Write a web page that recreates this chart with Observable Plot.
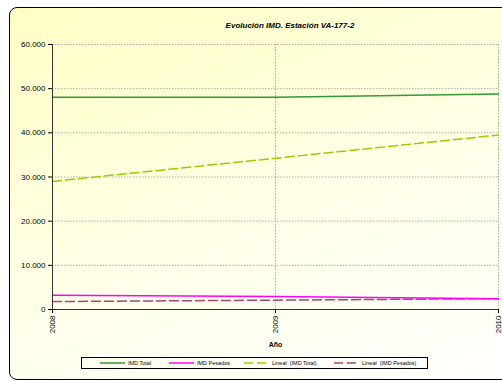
<!DOCTYPE html>
<html><head><meta charset="utf-8">
<script src="https://cdn.jsdelivr.net/npm/d3@7"></script>
<script src="https://cdn.jsdelivr.net/npm/@observablehq/plot@0.6"></script>
<style>
html,body{margin:0;padding:0;background:#fff;}
#wrap{position:relative;width:502px;height:381px;overflow:hidden;font-family:"Liberation Sans",Arial,sans-serif;}
#frame{position:absolute;left:9px;top:7px;width:520px;height:373px;border:1px solid #000;border-radius:8px;box-sizing:border-box;
 background:linear-gradient(160deg,#ffffc4 0%,#ffffe6 50%,#ffffff 100%);}
#title{position:absolute;left:0;width:580px;top:21px;text-align:center;font-size:8px;font-weight:bold;font-style:italic;color:#000;}
#chart{position:absolute;left:0;top:0;}
#legend{position:absolute;left:81px;top:357px;width:347px;height:12px;border:1px solid #000;box-sizing:border-box;font-size:5.5px;color:#000;white-space:pre;}
.li{position:absolute;top:0;height:10px;display:flex;align-items:center;}
.li svg{margin-right:3px;}
</style></head>
<body><div id="wrap"><div id="frame"></div><div id="title">Evolución IMD. Estación VA-177-2</div><div id="chart"></div><div id="legend"></div></div>
<script>
const years = [2008, 2009, 2010];
const imdTotal = [48050, 48050, 48800];
const imdPesados = [3200, 2950, 2450];
const trendYears = [2008, 2010];
const linealTotal = [29000, 39500];
const linealPesados = [1800, 2450];
const yTicks = [0, 10000, 20000, 30000, 40000, 50000, 60000];
const seriesNames = ["IMD Total", "IMD Pesados", "Lineal  (IMD Total)", "Lineal  (IMD Pesados)"];
const seriesColors = ["#339933", "#ff00ff", "#99cc00", "#a04870"];
const seriesDash = [null, null, "9,4", "9,4"];

const totalData = years.map((y,i)=>({year:y, v:imdTotal[i]}));
const pesData = years.map((y,i)=>({year:y, v:imdPesados[i]}));
const ltData = trendYears.map((y,i)=>({year:y, v:linealTotal[i]}));
const lpData = trendYears.map((y,i)=>({year:y, v:linealPesados[i]}));
const fmt = d => d === 0 ? "0" : d3.format(",")(d).replace(/,/g, ".");

const plot = Plot.plot({
  width: 502, height: 381,
  marginTop: 44, marginLeft: 52, marginRight: 4, marginBottom: 72,
  style: {background: "transparent", fontFamily: '"Liberation Sans", Arial, sans-serif', fontSize: "8px", color: "#000"},
  x: {domain: [2008, 2010]},
  y: {domain: [0, 60000]},
  marks: [
    Plot.gridY(yTicks.filter(d=>d>0), {stroke: "#999", strokeOpacity: 0.8, strokeDasharray: "1.5,1.5"}),
    Plot.gridX([2009, 2010], {stroke: "#999", strokeOpacity: 0.8, strokeDasharray: "1.5,1.5"}),
    Plot.line(ltData, {x: "year", y: "v", stroke: seriesColors[2], strokeWidth: 1.5, strokeDasharray: seriesDash[2]}),
    Plot.line(lpData, {x: "year", y: "v", stroke: seriesColors[3], strokeWidth: 1.5, strokeDasharray: seriesDash[3]}),
    Plot.line(pesData, {x: "year", y: "v", stroke: seriesColors[1], strokeWidth: 1.5}),
    Plot.line(totalData, {x: "year", y: "v", stroke: seriesColors[0], strokeWidth: 1.5}),
    Plot.axisY({ticks: yTicks, tickFormat: fmt, tickSize: 4, tickPadding: 3, label: null, fontSize: 8}),
    Plot.axisX({ticks: years, tickFormat: d => String(d), tickSize: 4, tickPadding: 2, tickRotate: -90, label: null, fontSize: 8}),
    Plot.ruleX([2008], {stroke: "#333"}),
    Plot.ruleY([0], {stroke: "#333"}),
    Plot.text(["Año"], {frameAnchor: "bottom", dy: 37, fontWeight: "bold", fontSize: 7})
  ]
});
document.getElementById("chart").appendChild(plot);

const legend = document.getElementById("legend");
const pos = [18, 87, 162, 252];
seriesNames.forEach((n,i)=>{
  const d = document.createElement("div");
  d.className = "li";
  d.style.left = pos[i] + "px";
  d.innerHTML = `<svg width="25" height="4"><line x1="0" x2="25" y1="2" y2="2" stroke="${seriesColors[i]}" stroke-width="1.5" ${seriesDash[i]?`stroke-dasharray="${seriesDash[i]}"`:""}/></svg><span>${n}</span>`;
  legend.appendChild(d);
});
</script></body></html>
